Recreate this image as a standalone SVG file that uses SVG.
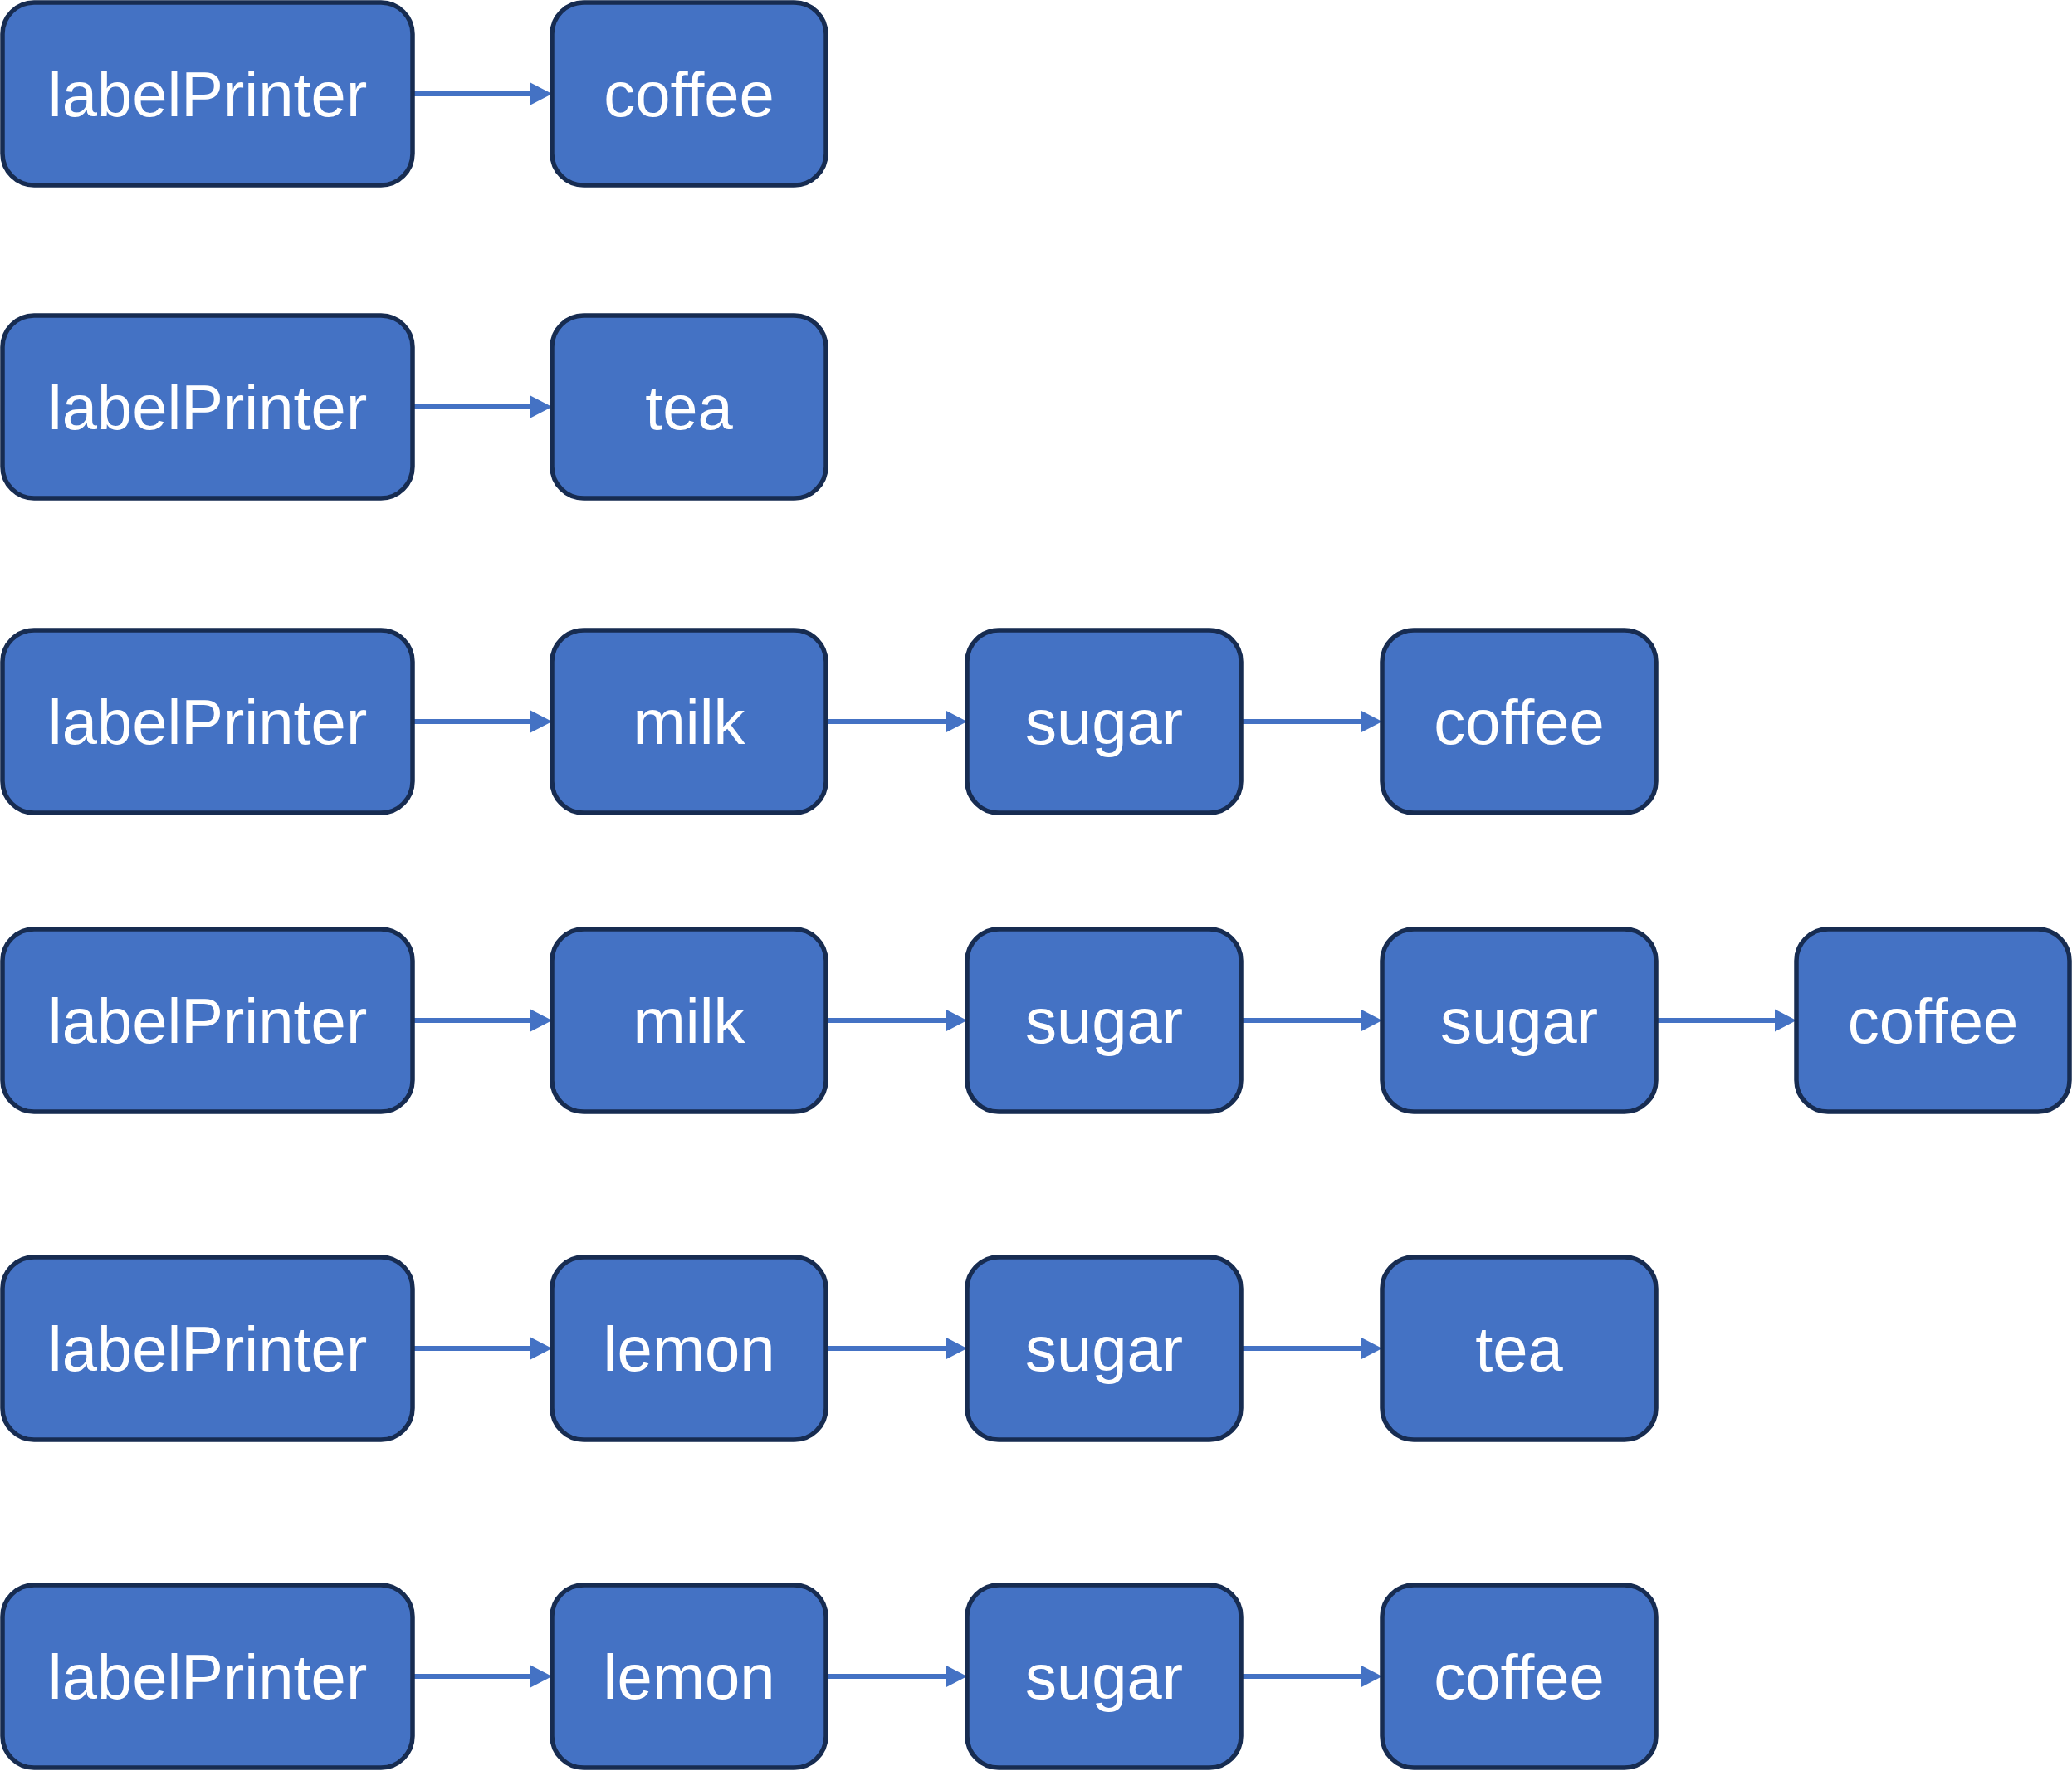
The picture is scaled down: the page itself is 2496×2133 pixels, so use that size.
<svg xmlns="http://www.w3.org/2000/svg" width="2496" height="2133" viewBox="0 0 2496 2133">
<style>
.n rect{fill:#4472C4;stroke:#172C51;stroke-width:5.5}
.n text{fill:#FFFFFF;font-family:"Liberation Sans",Arial,sans-serif;font-size:76px;text-anchor:middle}
.c line{stroke:#4472C4;stroke-width:6;marker-end:url(#ah)}
</style>
<defs>
<marker id="ah" markerUnits="userSpaceOnUse" markerWidth="27" markerHeight="28" refX="1" refY="13.5" orient="auto" overflow="visible">
<path d="M0,0 L26,13.5 L0,27 Z" fill="#4472C4"/>
</marker>
</defs>
<g id="connectors" class="c">
<line x1="497" y1="113" x2="640" y2="113"/>
<line x1="497" y1="490" x2="640" y2="490"/>
<line x1="497" y1="869" x2="640" y2="869"/>
<line x1="995" y1="869" x2="1140" y2="869"/>
<line x1="1495" y1="869" x2="1640" y2="869"/>
<line x1="497" y1="1229" x2="640" y2="1229"/>
<line x1="995" y1="1229" x2="1140" y2="1229"/>
<line x1="1495" y1="1229" x2="1640" y2="1229"/>
<line x1="1995" y1="1229" x2="2139" y2="1229"/>
<line x1="497" y1="1624" x2="640" y2="1624"/>
<line x1="995" y1="1624" x2="1140" y2="1624"/>
<line x1="1495" y1="1624" x2="1640" y2="1624"/>
<line x1="497" y1="2019" x2="640" y2="2019"/>
<line x1="995" y1="2019" x2="1140" y2="2019"/>
<line x1="1495" y1="2019" x2="1640" y2="2019"/>
</g>
<g id="r1n1" class="n"><rect x="3" y="3" width="494" height="220" rx="38"/><text x="250" y="140">labelPrinter</text></g>
<g id="r1n2" class="n"><rect x="665" y="3" width="330" height="220" rx="38"/><text x="830" y="140">coffee</text></g>
<g id="r2n1" class="n"><rect x="3" y="380" width="494" height="220" rx="38"/><text x="250" y="517">labelPrinter</text></g>
<g id="r2n2" class="n"><rect x="665" y="380" width="330" height="220" rx="38"/><text x="830" y="517">tea</text></g>
<g id="r3n1" class="n"><rect x="3" y="759" width="494" height="220" rx="38"/><text x="250" y="896">labelPrinter</text></g>
<g id="r3n2" class="n"><rect x="665" y="759" width="330" height="220" rx="38"/><text x="830" y="896">milk</text></g>
<g id="r3n3" class="n"><rect x="1165" y="759" width="330" height="220" rx="38"/><text x="1330" y="896">sugar</text></g>
<g id="r3n4" class="n"><rect x="1665" y="759" width="330" height="220" rx="38"/><text x="1830" y="896">coffee</text></g>
<g id="r4n1" class="n"><rect x="3" y="1119" width="494" height="220" rx="38"/><text x="250" y="1256">labelPrinter</text></g>
<g id="r4n2" class="n"><rect x="665" y="1119" width="330" height="220" rx="38"/><text x="830" y="1256">milk</text></g>
<g id="r4n3" class="n"><rect x="1165" y="1119" width="330" height="220" rx="38"/><text x="1330" y="1256">sugar</text></g>
<g id="r4n4" class="n"><rect x="1665" y="1119" width="330" height="220" rx="38"/><text x="1830" y="1256">sugar</text></g>
<g id="r4n5" class="n"><rect x="2164" y="1119" width="329" height="220" rx="38"/><text x="2328.5" y="1256">coffee</text></g>
<g id="r5n1" class="n"><rect x="3" y="1514" width="494" height="220" rx="38"/><text x="250" y="1651">labelPrinter</text></g>
<g id="r5n2" class="n"><rect x="665" y="1514" width="330" height="220" rx="38"/><text x="830" y="1651">lemon</text></g>
<g id="r5n3" class="n"><rect x="1165" y="1514" width="330" height="220" rx="38"/><text x="1330" y="1651">sugar</text></g>
<g id="r5n4" class="n"><rect x="1665" y="1514" width="330" height="220" rx="38"/><text x="1830" y="1651">tea</text></g>
<g id="r6n1" class="n"><rect x="3" y="1909" width="494" height="220" rx="38"/><text x="250" y="2046">labelPrinter</text></g>
<g id="r6n2" class="n"><rect x="665" y="1909" width="330" height="220" rx="38"/><text x="830" y="2046">lemon</text></g>
<g id="r6n3" class="n"><rect x="1165" y="1909" width="330" height="220" rx="38"/><text x="1330" y="2046">sugar</text></g>
<g id="r6n4" class="n"><rect x="1665" y="1909" width="330" height="220" rx="38"/><text x="1830" y="2046">coffee</text></g>
</svg>
